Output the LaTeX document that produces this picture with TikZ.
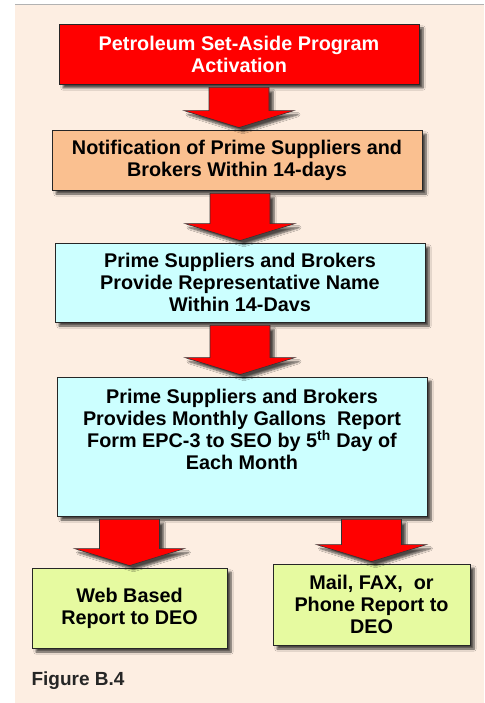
\documentclass[tikz,border=0pt]{standalone}
\usepackage{fontspec}
\setmainfont{Liberation Sans}
\usetikzlibrary{calc, shadows.blur}
\definecolor{pagebg}{RGB}{253,238,226}
\definecolor{peach}{RGB}{250,192,144}
\definecolor{paleblue}{RGB}{204,255,255}
\definecolor{lime}{RGB}{230,250,160}
\tikzset{
  stepbox/.style={
    draw=black!85, line width=0.8pt, rectangle,
    align=center, inner sep=2pt, text=black,
    font=\bfseries\fontsize{19.8}{22}\selectfont,
    blur shadow={shadow xshift=4pt, shadow yshift=-4pt, shadow blur steps=6, shadow opacity=70}
  },
  bigarrow/.style={
    fill=red, draw=black!80, line width=0.6pt, line join=miter,
    blur shadow={shadow xshift=4pt, shadow yshift=-4pt, shadow blur steps=6, shadow opacity=70}
  }
}
% block arrow from #1 (top) down to #2 (tip)
\newcommand{\flowarrow}[2]{
  \path[bigarrow] ($(#1)+(-30,3)$) -- ($(#1)+(30,3)$) -- ($(#2)+(30,-19)$) -- ($(#2)+(55,-19)$)
    -- ($(#2)+(0,-2)$) -- ($(#2)+(-55,-19)$) -- ($(#2)+(-30,-19)$) -- cycle;
}
\begin{document}
\begin{tikzpicture}[x=1pt, y=-1pt]
  \useasboundingbox (0,0) rectangle (484,703);
  \fill[pagebg] (15,5) rectangle (484,703);
  \draw[gray!60, line width=1pt] (15,5) -- (484,5);

  \node[stepbox, fill=red, text=white, minimum width=360, minimum height=60] (activate) at (239,54) {Petroleum Set-Aside Program\\Activation};
  \node[stepbox, fill=peach, minimum width=370, minimum height=60] (notify) at (237,160) {Notification of Prime Suppliers and\\Brokers Within 14-days};
  \node[stepbox, fill=paleblue, minimum width=370, minimum height=79] (repname) at (240,282.5) {Prime Suppliers and Brokers\\Provide Representative Name\\Within 14-Davs};
  \node[stepbox, fill=paleblue, minimum width=370, minimum height=139] (gallons) at (242,446.5) {Prime Suppliers and Brokers\\Provides Monthly Gallons~ Report\\Form EPC-3 to SEO by 5\textsuperscript{th} Day of\\Each Month\\[12pt]~};
  \node[stepbox, fill=lime, minimum width=195, minimum height=80] (web) at (129.5,608) {Web Based\\Report to DEO};
  \node[stepbox, fill=lime, minimum width=197, minimum height=81] (mail) at (371.5,604.5) {Mail, FAX,~ or\\Phone Report to\\DEO};

  \node[anchor=west, font=\bfseries\fontsize{19}{22}\selectfont, text=black!85] (figlabel) at (28,681) {Figure B.4};

  \coordinate (a1) at (activate.south |- notify.north);
  \coordinate (a2) at (notify.south -| repname.north);
  \coordinate (a4) at (gallons.south -| web.north);
  \coordinate (a5) at (gallons.south -| mail.north);
  \flowarrow{activate.south}{a1}
  \flowarrow{a2}{repname.north}
  \flowarrow{repname.south}{repname.south |- gallons.north}
  \flowarrow{a4}{web.north}
  \flowarrow{a5}{mail.north}
\end{tikzpicture}
\end{document}
